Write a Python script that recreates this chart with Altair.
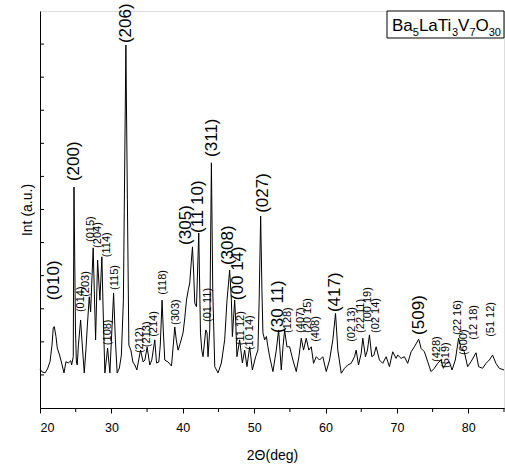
import altair as alt
import pandas as pd

# ---- XRD pattern (2theta in degrees, intensity in arbitrary units) ----
two_theta = [20.00, 20.24, 20.70, 21.05, 21.40, 21.68, 21.86, 22.00, 22.13, 22.24,
             22.42, 22.70, 23.03, 23.36, 23.64, 23.96, 24.30, 24.43, 24.66, 24.76,
             24.97, 25.10, 25.22, 25.38, 25.69, 25.87, 26.20, 26.43, 26.64, 26.90,
             27.09, 27.45, 27.79, 28.07, 28.39, 28.67, 28.88, 29.09, 29.47, 29.79,
             30.07, 30.31, 30.56, 30.81, 31.12, 31.40, 31.68, 32.03, 32.24, 32.45,
             32.73, 33.01, 33.29, 33.57, 34.08, 34.45, 34.69, 35.01, 35.38, 35.66,
             36.08, 36.32, 36.64, 36.85, 37.10, 37.27, 37.48, 37.94, 38.42, 38.67,
             38.88, 39.09, 39.34, 39.65, 40.04, 40.28, 40.52, 40.77, 40.98, 41.19,
             41.36, 41.54, 41.68, 41.92, 42.24, 42.48, 42.66, 42.84, 43.22, 43.40,
             43.54, 43.78, 44.01, 44.20, 44.48, 44.94, 45.41, 45.87, 46.20, 46.57,
             46.81, 46.95, 47.27, 47.41, 47.59, 47.97, 48.35, 48.67, 48.99, 49.37,
             49.75, 50.21, 50.53, 50.70, 50.91, 51.09, 51.23, 51.47, 51.71, 51.89,
             52.17, 52.63, 53.10, 53.43, 53.80, 54.06, 54.27, 54.59, 54.97, 55.43,
             55.90, 56.27, 56.60, 56.92, 57.30, 57.66, 58.00, 58.32, 58.70, 59.16,
             59.62, 60.10, 60.56, 61.02, 61.40, 61.72, 62.20, 62.66, 63.12, 63.59,
             64.06, 64.29, 64.62, 64.99, 65.22, 65.59, 65.87, 66.15, 66.48, 66.78,
             67.09, 67.55, 68.01, 68.49, 68.95, 69.41, 69.89, 70.11, 70.59, 71.05,
             71.51, 71.99, 72.45, 72.73, 73.05, 73.39, 73.85, 74.31, 74.78, 75.24,
             75.71, 76.18, 76.50, 76.88, 77.34, 77.72, 78.18, 78.64, 78.98, 79.44,
             79.90, 80.38, 81.08, 81.44, 82.00, 82.48, 82.94, 83.40, 83.87, 84.34,
             85.00]
intensity = [118, 110, 106, 118, 140, 190, 242, 246, 230, 216,
             181, 163, 136, 106, 140, 136, 143, 130, 155, 668,
             236, 139, 130, 190, 266, 206, 106, 175, 251, 336,
             291, 484, 206, 447, 326, 457, 266, 106, 181, 106,
             236, 347, 206, 106, 121, 160, 326, 1097, 629, 190,
             175, 139, 130, 115, 175, 139, 145, 184, 130, 145,
             206, 136, 139, 190, 326, 236, 145, 139, 127, 190,
             245, 206, 175, 196, 227, 272, 326, 357, 378, 441,
             487, 402, 317, 306, 529, 227, 175, 155, 236, 227,
             155, 236, 741, 357, 125, 106, 136, 206, 326, 417,
             326, 216, 326, 266, 155, 206, 136, 175, 125, 185,
             115, 155, 175, 326, 580, 357, 227, 206, 216, 190,
             155, 110, 175, 236, 115, 190, 236, 185, 185, 145,
             110, 155, 211, 175, 211, 175, 185, 135, 155, 145,
             155, 110, 145, 206, 286, 175, 105, 120, 130, 135,
             155, 175, 130, 165, 211, 155, 175, 221, 155, 160,
             185, 145, 135, 155, 125, 170, 150, 160, 150, 155,
             135, 170, 185, 196, 208, 180, 170, 140, 110, 120,
             135, 145, 120, 135, 140, 115, 145, 211, 180, 170,
             125, 140, 167, 125, 120, 135, 145, 160, 135, 120,
             115]

# ---- Miller index labels (major reflections) ----
big_labels = ["(010)", "(200)", "(206)", "(305)", "(11 10)", "(311)", "(308)",
              "(00 14)", "(027)", "(30 11)", "(417)", "(509)"]
big_x = [21.90, 24.83, 32.03, 40.49, 42.10, 44.13, 46.36, 47.69, 51.19, 53.36, 61.26, 73.15]
big_y = [326, 686, 1103, 493, 529, 759, 432, 326, 590, 227, 290, 221]

# ---- Miller index labels (minor reflections) ----
small_labels = ["(014)", "(203)", "(015)", "(204)", "(114)", "(108)", "(115)", "(212)",
                "(213)", "(214)", "(118)", "(303)", "(01 11)", "(11 12)", "(10 14)",
                "(128)", "(407)", "(20 15)", "(408)", "(02 13)", "(22 11)", "(00 19)",
                "(02 14)", "(428)", "(519)", "(22 16)", "(600)", "(12 18)", "(51 12)"]
small_x = [25.73, 26.50, 27.13, 28.11, 29.33, 29.51, 30.49, 33.99, 34.97, 35.94,
           37.30, 39.02, 43.47, 48.11, 49.37, 54.69, 56.50, 57.48, 58.60, 63.71,
           64.90, 66.01, 67.13, 75.66, 76.92, 78.60, 79.44, 80.84, 83.22]
small_y = [290, 336, 502, 484, 456, 190, 357, 166, 184, 215,
           342, 251, 260, 190, 175, 227, 227, 227, 200, 200,
           227, 260, 227, 139, 121, 221, 160, 206, 215]

x_major = [20, 30, 40, 50, 60, 70, 80]
x_minor = [25, 35, 45, 55, 65, 75, 85]
y_ticks = [100, 200, 300, 400, 500, 600, 700, 800, 900, 1000, 1100]

formula_parts = ["Ba", "5", "LaTi", "3", "V", "7", "O", "30"]
formula_is_sub = [False, True, False, True, False, True, False, True]

FONT = "Liberation Sans"

xs = alt.Scale(domain=[20, 85], nice=False, zero=False)
ys = alt.Scale(domain=[0, 1200], nice=False, zero=False)

x_axis = alt.Axis(values=x_major, title="2Θ(deg)", tickSize=5, labelFontSize=12.5,
                  labelPadding=8, titleFontSize=14, titlePadding=15, grid=False,
                  labelFont=FONT, titleFont=FONT, titleFontWeight="normal",
                  domainColor="black", tickColor="black", labelColor="black",
                  titleColor="black")
y_axis = alt.Axis(ticks=False, labels=False, grid=False, title="Int (a.u.)",
                  titleFontSize=14, titlePadding=6, titleFont=FONT,
                  titleFontWeight="normal", domainColor="black", titleColor="black")

df = pd.DataFrame({"two_theta": two_theta, "intensity": intensity})
big_df = pd.DataFrame({"two_theta": big_x, "intensity": big_y, "label": big_labels})
small_df = pd.DataFrame({"two_theta": small_x, "intensity": small_y, "label": small_labels})


def X():
    return alt.X("two_theta:Q", scale=xs, axis=x_axis)


def Y():
    return alt.Y("intensity:Q", scale=ys, axis=y_axis)


line = alt.Chart(df).mark_line(color="black", strokeWidth=1).encode(x=X(), y=Y())

big_text = alt.Chart(big_df).mark_text(
    angle=270, align="left", baseline="middle", fontSize=17, font=FONT, color="black"
).encode(x=X(), y=Y(), text="label:N")

small_text = alt.Chart(small_df).mark_text(
    angle=270, align="left", baseline="middle", fontSize=11, font=FONT, color="black"
).encode(x=X(), y=Y(), text="label:N")

minor_ticks = alt.Chart(pd.DataFrame({"two_theta": x_minor})).mark_rule(
    color="black", strokeWidth=1
).encode(x=X(), y=alt.value(397), y2=alt.value(401))

ytick_marks = alt.Chart(pd.DataFrame({"intensity": y_ticks})).mark_rule(
    color="black", strokeWidth=1
).encode(y=Y(), x=alt.value(0), x2=alt.value(4))

box = alt.Chart(pd.DataFrame({"a": [0]})).mark_rect(
    fill="white", stroke="black", strokeWidth=1
).encode(x=alt.value(347), x2=alt.value(464), y=alt.value(0), y2=alt.value(27))

# formula text pieces (main text and subscripts)
piece_x = [352, 372.8, 378.9, 412.0, 418.1, 429.4, 435.5, 448.7]
pieces = []
for part, sub, px in zip(formula_parts, formula_is_sub, piece_x):
    pieces.append(
        alt.Chart(pd.DataFrame({"t": [part]})).mark_text(
            align="left", baseline="alphabetic", fontSize=11 if sub else 17,
            font=FONT, color="black"
        ).encode(x=alt.value(px), y=alt.value(25 if sub else 20), text="t:N")
    )

chart = alt.layer(line, minor_ticks, ytick_marks, small_text, big_text, box, *pieces).properties(
    width=464, height=397,
    autosize=alt.AutoSizeParams(type="none"),
    padding={"left": 40, "top": 11, "right": 1, "bottom": 59},
).configure_view(stroke="black", strokeWidth=1).configure(background="white")

chart.save("out.html", embed_options={"renderer": "svg", "actions": False})
